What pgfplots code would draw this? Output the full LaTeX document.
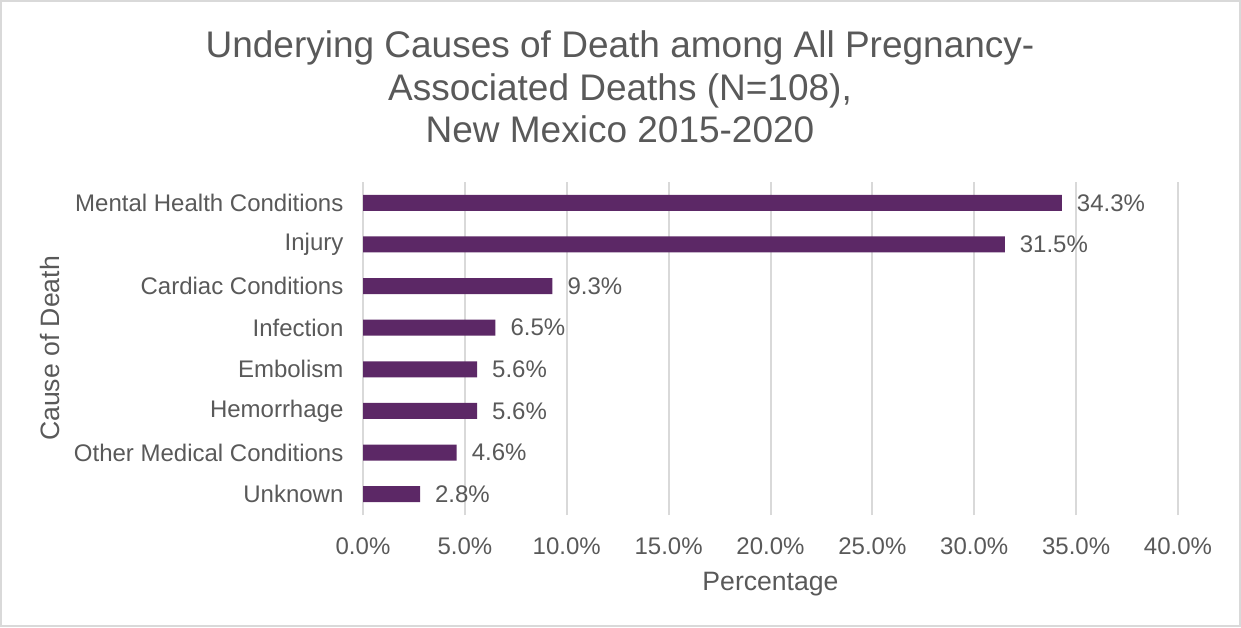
\documentclass[border=0pt]{standalone}
\usepackage{pgfplots}
\pgfplotsset{compat=1.18}
\usepackage{fontspec}
\setmainfont{Liberation Sans}
\definecolor{bar}{HTML}{5C2866}
\definecolor{txt}{HTML}{595959}
\definecolor{grd}{HTML}{D9D9D9}
\begin{document}
\begin{tikzpicture}
% picture is 620.5pt x 313.5pt (half of the 1241x627 px reference)
\useasboundingbox (0pt,0pt) rectangle (620.5pt,-313.5pt);
\draw[grd,line width=1pt] (0.5pt,-0.5pt) rectangle (620pt,-313pt);
\node[txt,font=\fontsize{18.5}{21.3}\selectfont,align=center] at (310pt,-43.5pt)
  {Underying Causes of Death among All Pregnancy-\\Associated Deaths (N=108),\\New Mexico 2015-2020};
\begin{axis}[
  at={(181.5pt,-257.5pt)}, anchor=south west,
  scale only axis, width=407.5pt, height=166.5pt,
  xbar, bar width=8pt,
  xmin=0, xmax=40, ymin=-0.5, ymax=7.5,
  xtick={0,5,...,40},
  xticklabel={\pgfmathprintnumber[fixed,fixed zerofill,precision=1]{\tick}\%},
  /pgf/number format/assume math mode=true,
  ytick={0,...,7},
  yticklabels={Unknown,Other Medical Conditions,Hemorrhage,Embolism,Infection,Cardiac Conditions,Injury,Mental Health Conditions},
  xmajorgrids, major grid style={grd,line width=1pt},
  axis line style={draw=none},
  tick style={draw=none},
  tick label style={txt,font=\fontsize{12}{14}\selectfont},
  xticklabel style={yshift=-8pt},
  yticklabel style={xshift=-2pt},
  xlabel={Percentage}, ylabel={Cause of Death},
  label style={txt,font=\fontsize{13.3}{15}\selectfont},
  xlabel style={yshift=-1.5pt},
  ylabel style={yshift=0pt},
  nodes near coords={\pgfmathprintnumber[fixed,fixed zerofill,precision=1]{\pgfplotspointmeta}\%},
  nodes near coords style={txt,font=\fontsize{12}{14}\selectfont,anchor=west,xshift=4pt,/pgf/number format/assume math mode=true},
  point meta=explicit,
  clip=false,
]
\draw[grd,line width=1pt] (axis cs:0,-0.5) -- (axis cs:0,7.5);
\addplot[fill=bar,draw=none] coordinates {
  (2.8,0) [2.8]
  (4.6,1) [4.6]
  (5.6,2) [5.6]
  (5.6,3) [5.6]
  (6.5,4) [6.5]
  (9.3,5) [9.3]
  (31.5,6) [31.5]
  (34.3,7) [34.3]
};
\end{axis}
\end{tikzpicture}
\end{document}
